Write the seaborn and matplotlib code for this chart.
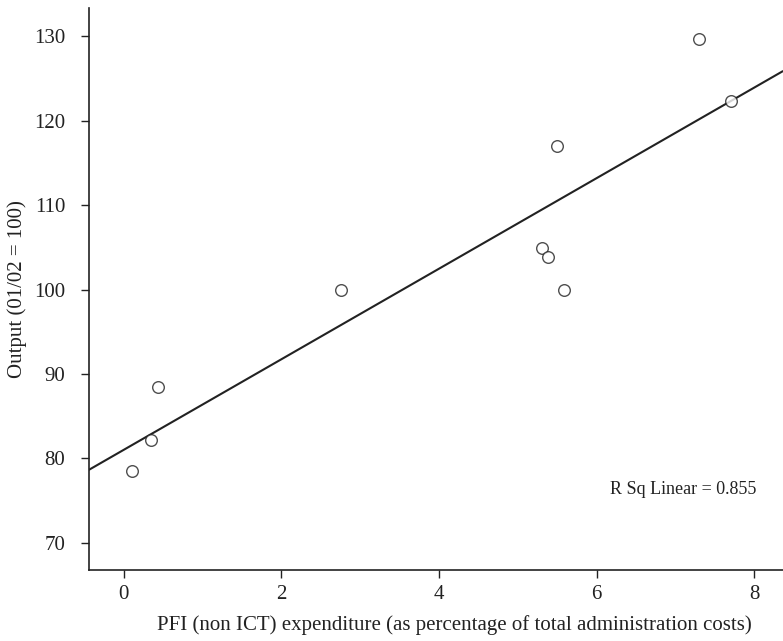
import matplotlib
matplotlib.use("Agg")
import matplotlib.pyplot as plt
import seaborn as sns
import pandas as pd

# PFI spend vs output, one point per department
pfi_share = [0.10, 0.35, 0.43, 2.75, 5.30, 5.38, 5.58, 5.50, 7.30, 7.70]
output_index = [78.5, 82.2, 88.5, 100.0, 104.9, 103.9, 99.9, 117.0, 129.7, 122.3]
x_ticks = [0, 2, 4, 6, 8]
y_ticks = [70, 80, 90, 100, 110, 120, 130]
r_sq_label = "R Sq Linear = 0.855"

df = pd.DataFrame({"pfi": pfi_share, "output": output_index})

sns.set_style("ticks")
plt.rcParams["font.family"] = ["Liberation Serif", "DejaVu Serif"]

fig = plt.figure(figsize=(7.83, 6.41), dpi=100)
ax = fig.add_axes([0.1137, 0.111, 0.886, 0.877])
# limits first so the fitted line runs across the whole axes
ax.set_xlim(-0.44, 8.36)
ax.set_ylim(66.8, 133.4)

sns.regplot(data=df, x="pfi", y="output", ax=ax, ci=None, truncate=False,
            scatter_kws=dict(s=70, facecolors="white", edgecolors="#222222",
                             linewidths=1.0, zorder=3),
            line_kws=dict(color="#222222", lw=1.5, zorder=2))

ax.set_xlim(-0.44, 8.36)
ax.set_ylim(66.8, 133.4)
ax.set_xticks(x_ticks)
ax.set_yticks(y_ticks)
ax.tick_params(labelsize=15, length=6, width=1, color="#222222", labelcolor="#222222")
ax.tick_params(axis="y", pad=11)
ax.tick_params(axis="x", pad=5)
ax.set_xlabel("PFI (non ICT) expenditure (as percentage of total administration costs)",
              fontsize=15, color="#222222")
ax.xaxis.set_label_coords(0.527, -0.08)
ax.set_ylabel("Output (01/02 = 100)", fontsize=15, color="#222222")
ax.yaxis.set_label_coords(-0.089, 0.5)
for side in ["left", "bottom"]:
    ax.spines[side].set_color("#222222")
    ax.spines[side].set_linewidth(1.2)
sns.despine(ax=ax)

ax.text(8.02, 76.3, r_sq_label, ha="right", va="center", fontsize=13, color="#222222")

fig.savefig("out.png", dpi=100)
